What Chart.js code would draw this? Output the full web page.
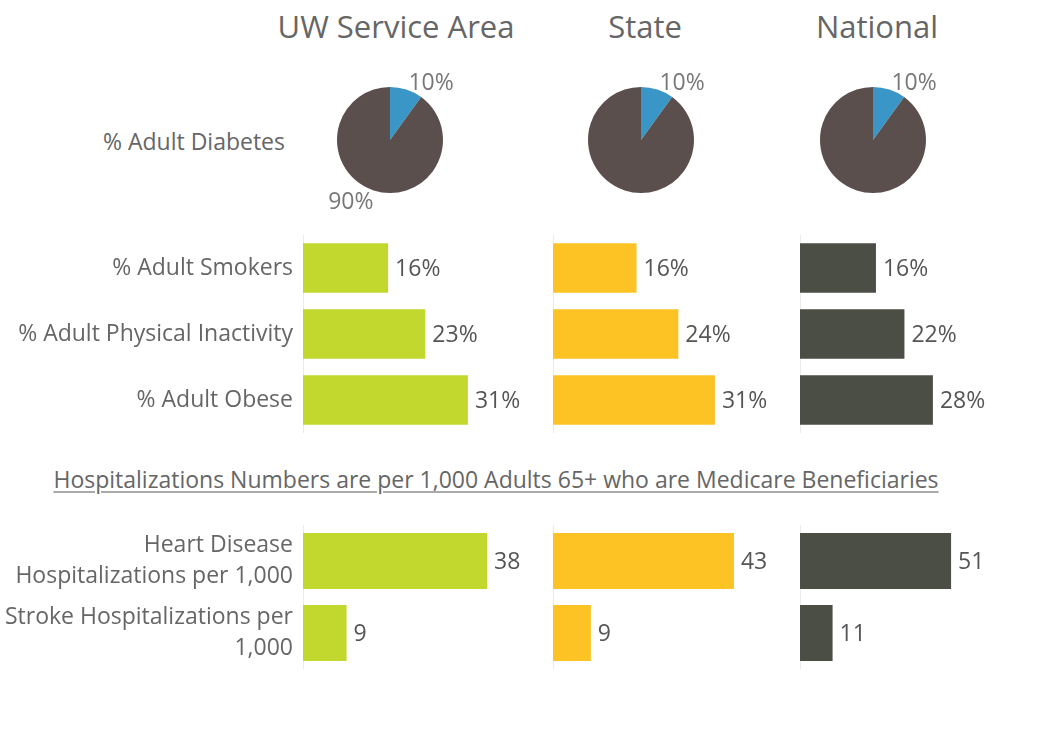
<!DOCTYPE html>
<html>
<head>
<meta charset="utf-8">
<script src="https://cdn.jsdelivr.net/npm/chart.js@4/dist/chart.umd.min.js"></script>
<style>
  body { margin: 0; background: #fff; font-family: "Open Sans", sans-serif; }
  #board { position: relative; width: 1053px; height: 740px; overflow: hidden; }
  canvas { position: absolute; }
  .txt { position: absolute; color: #666; white-space: nowrap; line-height: 1.35; }
  .title { font-size: 31px; top: 6px; transform: translateX(-50%); color: #666; }
  .note { font-size: 23px; top: 464px; left: 496px; transform: translateX(-50%); text-decoration: underline; text-decoration-color: #aaa; text-underline-offset: 3px; }
</style>
</head>
<body>
<div id="board">
  <div class="txt title" id="t0" style="left:396px"></div>
  <div class="txt title" id="t1" style="left:645px"></div>
  <div class="txt title" id="t2" style="left:877px"></div>
  <div class="txt" id="diabLabel" style="font-size:23px; right:768px; top:126px;"></div>
  <div class="txt note" id="note"></div>

  <canvas id="pie0" width="220" height="160" style="left:280px; top:60px"></canvas>
  <canvas id="pie1" width="220" height="160" style="left:531px; top:60px"></canvas>
  <canvas id="pie2" width="220" height="160" style="left:763px; top:60px"></canvas>

  <canvas id="rate0" width="553" height="198" style="left:0px; top:235px"></canvas>
  <canvas id="rate1" width="247" height="198" style="left:553px; top:235px"></canvas>
  <canvas id="rate2" width="253" height="198" style="left:800px; top:235px"></canvas>

  <canvas id="hosp0" width="553" height="144" style="left:0px; top:525px"></canvas>
  <canvas id="hosp1" width="247" height="144" style="left:553px; top:525px"></canvas>
  <canvas id="hosp2" width="253" height="144" style="left:800px; top:525px"></canvas>
</div>

<script>
// ---- data ----
const columnTitles = ['UW Service Area', 'State', 'National'];
const diabetesLabel = '% Adult Diabetes';
const diabetesCats = ['Diabetes', 'No diabetes'];
const uwDiabetes = [10, 90];
const stateDiabetes = [10, 90];
const nationalDiabetes = [10, 90];

const rateLabels = ['% Adult Smokers', '% Adult Physical Inactivity', '% Adult Obese'];
const uwRates = [16, 23, 31];
const stateRates = [16, 24, 31];
const nationalRates = [16, 22, 28];

const noteText = 'Hospitalizations Numbers are per 1,000 Adults 65+ who are Medicare Beneficiaries';
const hospLabels = [['Heart Disease', 'Hospitalizations per 1,000'], ['Stroke Hospitalizations per', '1,000']];
const uwHosp = [38, 9];
const stateHosp = [43, 9];
const nationalHosp = [51, 11];

// ---- style ----
const FONT = '"Open Sans", sans-serif';
const TEXT = '#666';
const pieColors = ['#3a96c7', '#5a4f4c'];
const barColors = ['#c2d82f', '#fdc325', '#4b4e44'];

// scale maxima per pane (each pane has its own axis, like the original)
const rateMax = [47, 47.3, 53.3];
const hospMax = [51.6, 58.7, 85.4];

// draws value labels next to bars and outside pie slices
const valueLabels = {
  id: 'valueLabels',
  afterDatasetsDraw(chart, args, opts) {
    const ctx = chart.ctx;
    const meta = chart.getDatasetMeta(0);
    const values = chart.data.datasets[0].data;
    ctx.save();
    ctx.font = opts.size + 'px ' + FONT;
    ctx.fillStyle = opts.color;
    ctx.textBaseline = 'middle';
    meta.data.forEach((el, i) => {
      const txt = values[i] + (opts.suffix || '');
      if (chart.config.type === 'bar') {
        ctx.textAlign = 'left';
        ctx.fillText(txt, el.x + 7, el.y + 1);
      } else {
        if (opts.shown && !opts.shown[i]) return;
        const mid = (el.startAngle + el.endAngle) / 2;
        const r = el.outerRadius + 10;
        const right = Math.cos(mid) >= 0;
        ctx.textAlign = right ? 'left' : 'right';
        ctx.fillText(txt, el.x + Math.cos(mid) * r + (right ? -1 : 3), el.y + Math.sin(mid) * r + 3);
      }
    });
    ctx.restore();
  }
};

function makePie(id, values, shown) {
  new Chart(document.getElementById(id), {
    type: 'pie',
    data: { labels: diabetesCats, datasets: [{ data: values, backgroundColor: pieColors, borderWidth: 0 }] },
    options: {
      responsive: false,
      animation: false,
      events: [],
      layout: { padding: { left: 57, right: 57, top: 27, bottom: 27 } },
      plugins: {
        legend: { display: false },
        tooltip: { enabled: false },
        valueLabels: { size: 23, color: '#777', suffix: '%', shown: shown }
      }
    },
    plugins: [valueLabels]
  });
}

function makeBars(id, labels, values, color, max, withLabels, barPct, suffix, lineH) {
  new Chart(document.getElementById(id), {
    type: 'bar',
    data: { labels: labels, datasets: [{ data: values, backgroundColor: color, borderWidth: 0,
      categoryPercentage: 1, barPercentage: barPct }] },
    options: {
      indexAxis: 'y',
      responsive: false,
      animation: false,
      events: [],
      layout: { padding: 0 },
      scales: {
        x: { display: false, min: 0, max: max },
        y: {
          grid: { display: false, drawTicks: false },
          border: { display: true, color: '#ebebeb', width: 1 },
          ticks: { display: withLabels, color: TEXT, padding: 10,
            font: { family: FONT, size: 23, lineHeight: lineH } },
          afterFit: s => {
            s.width = withLabels ? 303 : 0;
            s.paddingTop = 0;
            s.paddingBottom = 0;
          }
        }
      },
      plugins: {
        legend: { display: false },
        tooltip: { enabled: false },
        valueLabels: { size: 23, color: '#555', suffix: suffix }
      }
    },
    plugins: [valueLabels]
  });
}

columnTitles.forEach((t, i) => { document.getElementById('t' + i).textContent = t; });
document.getElementById('diabLabel').textContent = diabetesLabel;
document.getElementById('note').textContent = noteText;

makePie('pie0', uwDiabetes, [true, true]);
makePie('pie1', stateDiabetes, [true, false]);
makePie('pie2', nationalDiabetes, [true, false]);

makeBars('rate0', rateLabels, uwRates, barColors[0], rateMax[0], true, 0.75, '%', 1.2);
makeBars('rate1', rateLabels, stateRates, barColors[1], rateMax[1], false, 0.75, '%', 1.2);
makeBars('rate2', rateLabels, nationalRates, barColors[2], rateMax[2], false, 0.75, '%', 1.2);

makeBars('hosp0', hospLabels, uwHosp, barColors[0], hospMax[0], true, 0.78, '', 1.35);
makeBars('hosp1', hospLabels, stateHosp, barColors[1], hospMax[1], false, 0.78, '', 1.35);
makeBars('hosp2', hospLabels, nationalHosp, barColors[2], hospMax[2], false, 0.78, '', 1.35);
</script>
</body>
</html>
